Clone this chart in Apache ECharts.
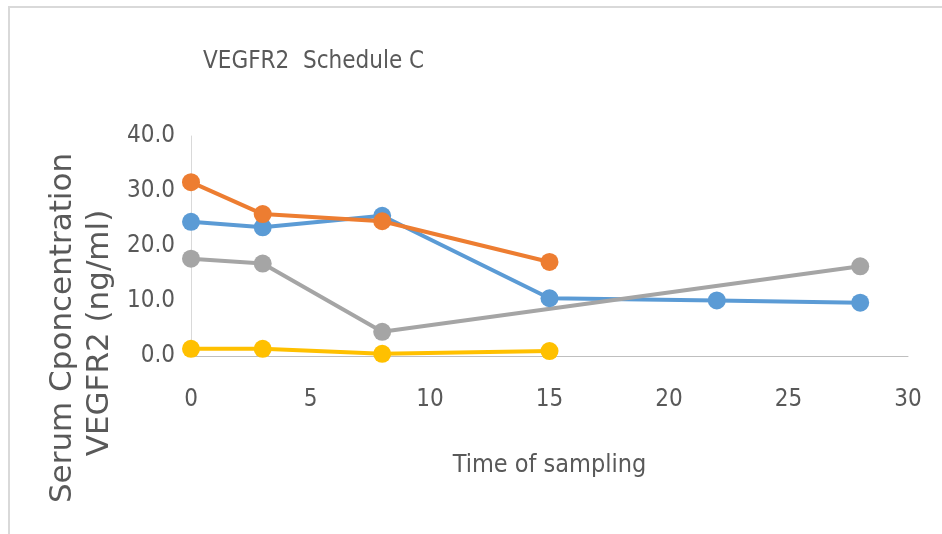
<!DOCTYPE html>
<html>
	<head>
		<meta charset="utf-8">
		<title>VEGFR2 Schedule C</title>
		<style>
			html, body { margin: 0; padding: 0; background: #fff; }
			#main { width: 942px; height: 534px; }
		</style>
	</head>
	<body>
		<div id="main"></div>
		<script src="https://cdn.jsdelivr.net/npm/echarts@6/dist/echarts.min.js"></script>
		<script>
			// time points and concentrations per patient
			var time1 = [0, 3, 8, 15, 22, 28];
			var vals1 = [24.4, 23.4, 25.5, 10.5, 10.1, 9.7];
			var time2 = [0, 3, 8, 15];
			var vals2 = [31.6, 25.8, 24.5, 17.1];
			var time3 = [0, 3, 8, 28];
			var vals3 = [17.7, 16.8, 4.4, 16.3];
			var time4 = [0, 3, 8, 15];
			var vals4 = [1.3, 1.3, 0.4, 0.9];
			var colors = ['#5B9BD5', '#ED7D31', '#A5A5A5', '#FFC000'];
			var yTitle = ['Serum Cponcentration', 'VEGFR2 (ng/ml)'];
			var font = "'DejaVu Sans Condensed', 'Liberation Sans Narrow', 'Open Sans', sans-serif";

			function pairs(xs, ys) {
				return xs.map(function(x, i) { return [x, ys[i]]; });
			}

			function mkSeries(xs, ys, c) {
				return {
					type: 'line',
					data: pairs(xs, ys),
					symbol: 'circle',
					symbolSize: 18,
					lineStyle: { color: c, width: 4 },
					itemStyle: { color: c },
					animation: false
				};
			}

			// rotated y axis title, placed lower than the axis middle like the original
			function yTitleText(str, cx, cy) {
				return {
					type: 'text', x: cx, y: cy, rotation: Math.PI / 2, silent: true,
					style: {
						text: str, fill: '#595959', fontSize: 31,
						fontFamily: "'DejaVu Sans', sans-serif",
						align: 'center', verticalAlign: 'middle'
					}
				};
			}

			var myChart = echarts.init(document.getElementById('main'));
			var option = {
				title: {
					text: 'VEGFR2  Schedule C',
					left: 198,
					top: 45,
					textStyle: { color: '#595959', fontSize: 24, fontWeight: 'normal', fontFamily: font }
				},
				grid: { left: 191, right: 34, top: 136, bottom: 178 },
				xAxis: {
					type: 'value',
					min: 0, max: 30, interval: 5,
					name: 'Time of sampling',
					nameLocation: 'middle',
					nameGap: 97,
					nameTextStyle: { color: '#595959', fontSize: 25, fontFamily: font },
					axisLine: { show: true, lineStyle: { color: '#bfbfbf', width: 1 } },
					axisTick: { show: false },
					splitLine: { show: false },
					axisLabel: { color: '#595959', fontSize: 24, fontFamily: font, margin: 32 }
				},
				yAxis: {
					type: 'value',
					min: 0, max: 40, interval: 10,
					axisLine: { show: true, lineStyle: { color: '#d9d9d9', width: 1 } },
					axisTick: { show: false },
					splitLine: { show: false },
					axisLabel: {
						color: '#595959', fontSize: 24, fontFamily: font, margin: 16,
						formatter: function(v) { return v.toFixed(1); }
					}
				},
				graphic: [
					{ type: 'rect', shape: { x: 8, y: 6, width: 934, height: 2 }, style: { fill: '#d9d9d9' }, silent: true },
					{ type: 'rect', shape: { x: 8, y: 6, width: 2, height: 528 }, style: { fill: '#d9d9d9' }, silent: true },
					yTitleText(yTitle[0], 63, 328),
					yTitleText(yTitle[1], 100, 333)
				],
				series: [
					mkSeries(time1, vals1, colors[0]),
					mkSeries(time2, vals2, colors[1]),
					mkSeries(time3, vals3, colors[2]),
					mkSeries(time4, vals4, colors[3])
				]
			};
			myChart.setOption(option);
		</script>
	</body>
</html>
